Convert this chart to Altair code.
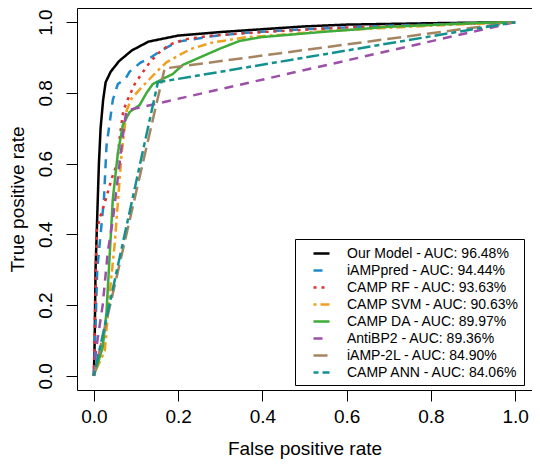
import altair as alt
import pandas as pd

# ---- data ----
series = [
    "Our Model - AUC: 96.48%",
    "iAMPpred - AUC: 94.44%",
    "CAMP RF - AUC: 93.63%",
    "CAMP SVM - AUC: 90.63%",
    "CAMP DA - AUC: 89.97%",
    "AntiBP2 - AUC: 89.36%",
    "iAMP-2L - AUC: 84.90%",
    "CAMP ANN - AUC: 84.06%",
]

our_fpr = [0, 0.002, 0.004, 0.008, 0.012, 0.016, 0.022, 0.028, 0.04, 0.06, 0.09, 0.13, 0.2, 0.3, 0.4, 0.5, 0.6, 0.8, 1]
our_tpr = [0, 0.1, 0.3, 0.45, 0.6, 0.7, 0.78, 0.83, 0.86, 0.89, 0.92, 0.945, 0.962, 0.972, 0.98, 0.988, 0.993, 0.997, 1]

iamp_fpr = [0, 0.003, 0.008, 0.016, 0.024, 0.03, 0.045, 0.057, 0.075, 0.085, 0.11, 0.135, 0.16, 0.2, 0.28, 0.36, 0.5, 0.7, 1]
iamp_tpr = [0, 0.1, 0.3, 0.4, 0.5, 0.65, 0.78, 0.825, 0.84, 0.86, 0.885, 0.9, 0.92, 0.945, 0.96, 0.97, 0.98, 0.99, 1]

rf_fpr = [0, 0.003, 0.007, 0.015, 0.026, 0.043, 0.055, 0.062, 0.07, 0.08, 0.097, 0.113, 0.133, 0.156, 0.18, 0.22, 0.28, 0.4, 0.6, 1]
rf_tpr = [0, 0.2, 0.41, 0.45, 0.49, 0.56, 0.6, 0.68, 0.75, 0.78, 0.825, 0.853, 0.887, 0.915, 0.937, 0.952, 0.962, 0.972, 0.985, 1]

svm_fpr = [0, 0.006, 0.026, 0.035, 0.045, 0.05, 0.057, 0.066, 0.078, 0.089, 0.109, 0.133, 0.156, 0.173, 0.2, 0.23, 0.28, 0.36, 0.44, 0.52, 0.63, 0.8, 1]
svm_tpr = [0, 0.02, 0.07, 0.2, 0.32, 0.38, 0.49, 0.63, 0.75, 0.783, 0.81, 0.84, 0.868, 0.887, 0.905, 0.924, 0.942, 0.957, 0.964, 0.972, 0.98, 0.99, 1]

da_fpr = [0, 0.021, 0.03, 0.038, 0.045, 0.057, 0.069, 0.085, 0.109, 0.125, 0.14, 0.164, 0.187, 0.211, 0.251, 0.299, 0.346, 0.4, 0.48, 0.56, 0.63, 0.685, 0.8, 0.92, 1]
da_tpr = [0, 0.08, 0.18, 0.35, 0.5, 0.63, 0.71, 0.746, 0.766, 0.8, 0.825, 0.84, 0.853, 0.879, 0.9, 0.925, 0.947, 0.958, 0.966, 0.974, 0.98, 0.986, 0.992, 0.998, 1]

anti_fpr = [0, 0.006, 0.021, 0.033, 0.045, 0.057, 0.069, 0.077, 1]
anti_tpr = [0, 0.08, 0.2, 0.35, 0.44, 0.56, 0.68, 0.75, 1]

iamp2l_fpr = [0, 0.168, 1]
iamp2l_tpr = [0, 0.869, 1]

ann_fpr = [0, 0.152, 1]
ann_tpr = [0, 0.83, 1]

colors = ["#000000", "#1f88c9", "#e0312f", "#f0a020", "#3fab3a", "#9b4fa6", "#a58462", "#12918f"]
dashes = [[1, 0], [9, 7], [3, 5], [3, 4, 9, 4], [1, 0], [9, 7], [14, 6], [5, 4, 13, 4]]

fprs = [our_fpr, iamp_fpr, rf_fpr, svm_fpr, da_fpr, anti_fpr, iamp2l_fpr, ann_fpr]
tprs = [our_tpr, iamp_tpr, rf_tpr, svm_tpr, da_tpr, anti_tpr, iamp2l_tpr, ann_tpr]

rows = []
for name, xs, ys in zip(series, fprs, tprs):
    for i, (x, y) in enumerate(zip(xs, ys)):
        rows.append({"model": name, "fpr": x, "tpr": y, "idx": i})
df = pd.DataFrame(rows)

FONT = "Liberation Sans"
ticks = [0, 0.2, 0.4, 0.6, 0.8, 1.0]

chart = (
    alt.Chart(df)
    .mark_line(strokeWidth=2.5, clip=True)
    .encode(
        x=alt.X(
            "fpr:Q",
            scale=alt.Scale(domain=[-0.04, 1.04], nice=False, zero=False),
            axis=alt.Axis(
                values=ticks, format=".1f", title="False positive rate",
                grid=False, domain=False, tickSize=11, tickColor="black",
                labelFontSize=19, titleFontSize=19, labelFont=FONT, titleFont=FONT,
                labelColor="black", titleColor="black", titleFontWeight="normal",
                labelPadding=6, titleY=58, titleBaseline="middle",
            ),
        ),
        y=alt.Y(
            "tpr:Q",
            scale=alt.Scale(domain=[-0.04, 1.04], nice=False, zero=False),
            axis=alt.Axis(
                values=ticks, format=".1f", title="True positive rate",
                grid=False, domain=False, tickSize=11, tickColor="black",
                labelFontSize=19, titleFontSize=19, labelFont=FONT, titleFont=FONT,
                labelColor="black", titleColor="black", titleFontWeight="normal",
                labelAngle=270, labelAlign="center", labelBaseline="alphabetic",
                labelPadding=15, titleX=-60, titleBaseline="middle",
            ),
        ),
        color=alt.Color(
            "model:N",
            scale=alt.Scale(domain=series, range=colors),
            legend=alt.Legend(
                title=None, orient="none", legendX=218, legendY=231,
                fillColor="white", strokeColor="black", padding=5,
                symbolType="stroke", symbolSize=256, symbolStrokeWidth=2.5,
                symbolOffset=12,
                labelFontSize=14, labelFont=FONT, labelColor="black",
                labelOffset=16, rowPadding=0, cornerRadius=0, labelLimit=400,
            ),
        ),
        strokeDash=alt.StrokeDash(
            "model:N",
            scale=alt.Scale(domain=series, range=dashes),
            legend=alt.Legend(title=None),
        ),
        order="idx:Q",
    )
    .properties(width=455, height=382, padding={"left": 69, "top": 0, "right": 0, "bottom": 69},
                autosize=alt.AutoSizeParams(type="none"))
    .configure_view(stroke="black", strokeWidth=1)
)

chart.save("out.html", embed_options={"renderer": "svg", "actions": False})
